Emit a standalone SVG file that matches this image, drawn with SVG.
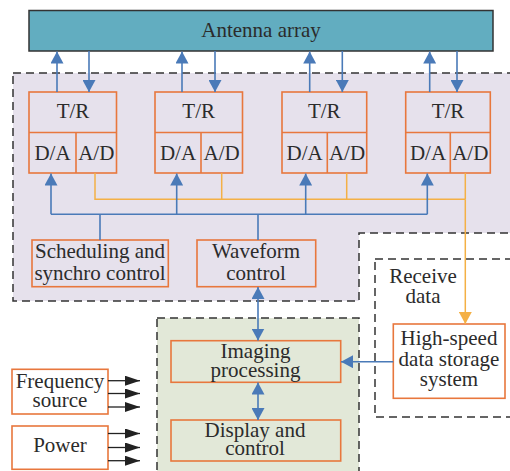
<svg xmlns="http://www.w3.org/2000/svg" width="510" height="471" viewBox="0 0 510 471">
<style>
.t{font-family:"Liberation Serif","Times New Roman",serif;font-size:21px;fill:#2b2b2b;text-anchor:middle}
.box{fill:none;stroke:#e8773d;stroke-width:1.6}
.wbox{fill:#fff;stroke:#e8773d;stroke-width:1.6}
.dash{stroke:#333;stroke-width:1.5;stroke-dasharray:8,5}
.bl{fill:none;stroke:#4a7ab8;stroke-width:1.6}
.yl{fill:none;stroke:#f4b045;stroke-width:1.5}
.kl{fill:none;stroke:#222;stroke-width:1.3}
</style>
<defs>
<marker id="ab" viewBox="0 0 12 13" refX="12" refY="6.5" markerWidth="12" markerHeight="13" orient="auto-start-reverse" markerUnits="userSpaceOnUse"><path d="M0,0 L12,6.5 L0,13 Z" fill="#4a7ab8"/></marker>
<marker id="ay" viewBox="0 0 12 13" refX="12" refY="6.5" markerWidth="12" markerHeight="13" orient="auto" markerUnits="userSpaceOnUse"><path d="M0,0 L12,6.5 L0,13 Z" fill="#f4b045"/></marker>
<marker id="ak" viewBox="0 0 15 10" refX="15" refY="5" markerWidth="15" markerHeight="10" orient="auto" markerUnits="userSpaceOnUse"><path d="M0,0 L15,5 L0,10 Z" fill="#222"/></marker>
</defs>

<g id="regions">
<path d="M13,73 H512 V233 H359 V301 H13 Z" fill="#e6e1ec" class="dash"/>
<rect x="157" y="318" width="202" height="160" fill="#e2e8d8" class="dash"/>
<rect x="375" y="259" width="140" height="158" fill="#fff" class="dash"/>
</g>

<g id="antenna">
<rect x="29" y="10.5" width="464" height="40.5" fill="#62adc0" stroke="#333" stroke-width="1.5"/>
<text class="t" x="261" y="37">Antenna array</text>
</g>

<g id="tr1">
<rect class="box" x="29" y="92" width="87.5" height="81"/>
<path class="box" d="M29,132.5 H116.5 M76,132.5 V173"/>
<text class="t" x="73" y="118">T/R</text>
<text class="t" x="52.5" y="160">D/A</text>
<text class="t" x="96.3" y="160">A/D</text>
</g>
<g id="tr2">
<rect class="box" x="155" y="92" width="87.5" height="81"/>
<path class="box" d="M155,132.5 H242.5 M201,132.5 V173"/>
<text class="t" x="198.7" y="118">T/R</text>
<text class="t" x="178" y="160">D/A</text>
<text class="t" x="221.7" y="160">A/D</text>
</g>
<g id="tr3">
<rect class="box" x="282" y="92" width="84.7" height="81"/>
<path class="box" d="M282,132.5 H366.7 M327.3,132.5 V173"/>
<text class="t" x="324.3" y="118">T/R</text>
<text class="t" x="304.7" y="160">D/A</text>
<text class="t" x="347" y="160">A/D</text>
</g>
<g id="tr4">
<rect class="box" x="405.7" y="92" width="84.6" height="81"/>
<path class="box" d="M405.7,132.5 H490.3 M450.3,132.5 V173"/>
<text class="t" x="448" y="118">T/R</text>
<text class="t" x="428" y="160">D/A</text>
<text class="t" x="470.3" y="160">A/D</text>
</g>

<g id="sched">
<rect class="box" x="32" y="240" width="136.3" height="46.7"/>
<text class="t" x="100" y="257.7">Scheduling and</text>
<text class="t" x="100" y="280">synchro control</text>
</g>
<g id="waveform">
<rect class="box" x="197" y="240" width="118.7" height="46.7"/>
<text class="t" x="256" y="257.7">Waveform</text>
<text class="t" x="256" y="280">control</text>
</g>
<g id="imaging">
<rect class="box" x="171" y="340.7" width="169.7" height="41.6"/>
<text class="t" x="255.5" y="358.3">Imaging</text>
<text class="t" x="255.5" y="376.5">processing</text>
</g>
<g id="display">
<rect class="box" x="171" y="420" width="169.7" height="41"/>
<text class="t" x="255" y="437">Display and</text>
<text class="t" x="255" y="455">control</text>
</g>
<g id="receive">
<text class="t" x="423" y="283.3">Receive</text>
<text class="t" x="423" y="303.3">data</text>
</g>
<g id="storage">
<rect class="wbox" x="393.3" y="324" width="111.7" height="74.3"/>
<text class="t" x="449" y="345">High-speed</text>
<text class="t" x="449" y="365.5">data storage</text>
<text class="t" x="449" y="386">system</text>
</g>
<g id="freq">
<rect class="wbox" x="12" y="369.3" width="96" height="44.7"/>
<text class="t" x="60" y="388.3">Frequency</text>
<text class="t" x="60" y="406.7">source</text>
</g>
<g id="power">
<rect class="wbox" x="12" y="426" width="96" height="43.3"/>
<text class="t" x="60" y="451.7">Power</text>
</g>

<g id="connectors">
<!-- antenna <-> T/R -->
<path class="bl" d="M57,92 V51.5" marker-end="url(#ab)"/>
<path class="bl" d="M89,51 V92" marker-end="url(#ab)"/>
<path class="bl" d="M182,92 V51.5" marker-end="url(#ab)"/>
<path class="bl" d="M215,51 V92" marker-end="url(#ab)"/>
<path class="bl" d="M309.7,92 V51.5" marker-end="url(#ab)"/>
<path class="bl" d="M342.3,51 V92" marker-end="url(#ab)"/>
<path class="bl" d="M429.7,92 V51.5" marker-end="url(#ab)"/>
<path class="bl" d="M457,51 V92" marker-end="url(#ab)"/>
<!-- A/D bus -->
<path class="yl" d="M95,173 V199.3 H465.3 M221.7,173 V199.3 M346.7,173 V199.3 M465.3,173 V199.3"/>
<path class="yl" d="M465.3,199.3 V324" marker-end="url(#ay)"/>
<!-- D/A bus -->
<path class="bl" d="M51,214.3 H427.3 M100,214.3 V240 M258,214.3 V240"/>
<path class="bl" d="M51,214.3 V173.5" marker-end="url(#ab)"/>
<path class="bl" d="M176.7,214.3 V173.5" marker-end="url(#ab)"/>
<path class="bl" d="M305.7,214.3 V173.5" marker-end="url(#ab)"/>
<path class="bl" d="M427.3,214.3 V173.5" marker-end="url(#ab)"/>
<!-- waveform <-> imaging <-> display -->
<path class="bl" d="M258,287 V340.5" marker-start="url(#ab)" marker-end="url(#ab)"/>
<path class="bl" d="M258,382.5 V420" marker-start="url(#ab)" marker-end="url(#ab)"/>
<!-- storage -> imaging -->
<path class="bl" d="M393.3,361.7 H341" marker-end="url(#ab)"/>
<!-- freq / power outputs -->
<path class="kl" d="M108,380.7 H140" marker-end="url(#ak)"/>
<path class="kl" d="M108,393.5 H140" marker-end="url(#ak)"/>
<path class="kl" d="M108,407 H140" marker-end="url(#ak)"/>
<path class="kl" d="M108,433.5 H140" marker-end="url(#ak)"/>
<path class="kl" d="M108,447.5 H140" marker-end="url(#ak)"/>
<path class="kl" d="M108,460.7 H140" marker-end="url(#ak)"/>
</g>
</svg>
